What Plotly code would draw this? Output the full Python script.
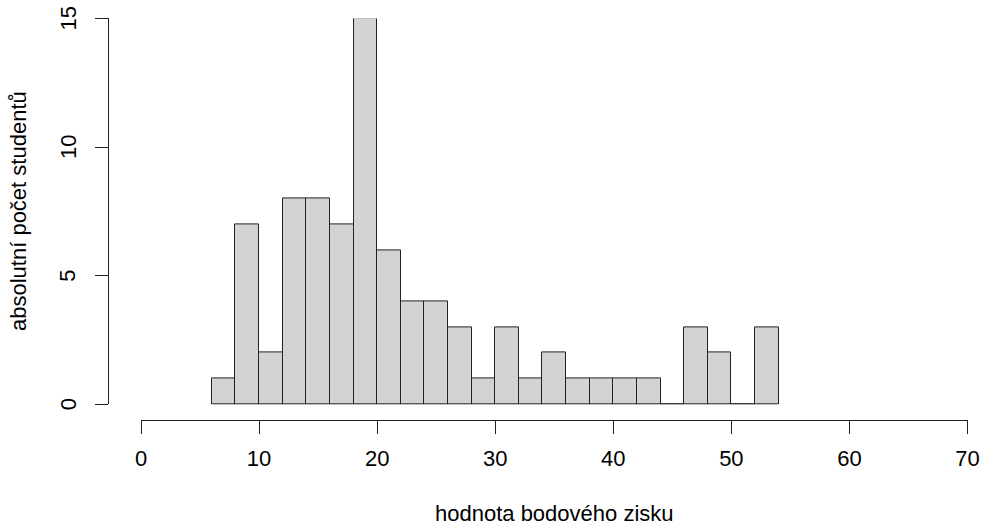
import plotly.graph_objects as go

# histogram bins (width 2) and counts
bin_edges = list(range(6, 56, 2))
counts = [1, 7, 2, 8, 8, 7, 15, 6, 4, 4, 3, 1, 3, 1, 2, 1, 1, 1, 1, 0, 3, 2, 0, 3]
x_ticks = [0, 10, 20, 30, 40, 50, 60, 70]
y_ticks = [0, 5, 10, 15]
x_title = "hodnota bodového zisku"
y_title = "absolutní počet studentů"

centers = [(bin_edges[i] + bin_edges[i + 1]) / 2 for i in range(len(counts))]
widths = [bin_edges[i + 1] - bin_edges[i] for i in range(len(counts))]

W, H = 988, 525
FONT = "Liberation Sans, Arial, Helvetica, sans-serif"

fig = go.Figure()
# baseline (R draws zero-height bins as a line)
fig.add_trace(go.Scatter(x=[bin_edges[0], bin_edges[-1]], y=[0, 0], mode="lines",
                         line=dict(color="#222222", width=1), hoverinfo="skip",
                         showlegend=False, cliponaxis=False))
fig.add_trace(go.Bar(x=centers, y=counts, width=widths,
                     marker=dict(color="#d3d3d3", line=dict(color="#222222", width=1)),
                     cliponaxis=False, showlegend=False))

annotations = [
    dict(text=x_title, xref="paper", yref="paper", x=554 / W, y=(H - 513) / H,
         xanchor="center", yanchor="middle", showarrow=False, font=dict(size=22)),
    dict(text=y_title, xref="paper", yref="paper", x=19 / W, y=(H - 211) / H,
         xanchor="center", yanchor="middle", showarrow=False, textangle=-90,
         font=dict(size=22)),
]
# vertical y tick labels (R style, las=0)
for v in y_ticks:
    annotations.append(dict(text=str(v), xref="paper", yref="y", x=68 / W, y=v,
                            xanchor="center", yanchor="middle", showarrow=False,
                            textangle=-90, font=dict(size=22)))

fig.update_layout(
    width=W, height=H,
    margin=dict(l=0, r=0, t=0, b=0),
    plot_bgcolor="white", paper_bgcolor="white",
    bargap=0,
    font=dict(family=FONT, size=22, color="black"),
    xaxis=dict(domain=[141 / W, 967.5 / W], range=[0, 70], anchor="free",
               position=(H - 420) / H, tickvals=x_ticks, ticks="outside",
               ticklen=13, tickwidth=1, tickcolor="#222222", showline=True,
               linecolor="#222222", linewidth=1, showgrid=False, zeroline=False,
               tickfont=dict(size=22), automargin=False, ticklabelstandoff=6),
    yaxis=dict(domain=[(H - 404.3) / H, (H - 18.4) / H], range=[0, 15], anchor="free",
               position=108 / W, tickvals=y_ticks, ticks="outside",
               ticklen=13, tickwidth=1, tickcolor="#222222", showline=True,
               linecolor="#222222", linewidth=1, showgrid=False, zeroline=False,
               showticklabels=False, automargin=False),
    annotations=annotations,
)

fig.write_html("out.html")
